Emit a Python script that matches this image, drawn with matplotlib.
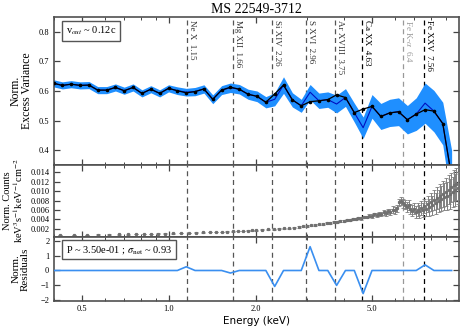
import matplotlib
matplotlib.use('Agg')
import matplotlib.pyplot as plt
import matplotlib.ticker as mticker
import numpy as np

plt.rcParams['font.family'] = ['Liberation Serif', 'DejaVu Serif']
plt.rcParams['mathtext.fontset'] = 'stix'

# excess variance spectrum (46 log bins, 0.4 - 10 keV)
energy = [0.400, 0.429, 0.460, 0.494, 0.530, 0.568, 0.610, 0.654, 0.701, 0.752,
          0.807, 0.866, 0.929, 0.997, 1.069, 1.147, 1.230, 1.320, 1.416, 1.519,
          1.629, 1.748, 1.875, 2.012, 2.158, 2.315, 2.483, 2.664, 2.858, 3.066,
          3.289, 3.528, 3.784, 4.060, 4.355, 4.672, 5.012, 5.377, 5.768, 6.187,
          6.637, 7.120, 7.638, 8.194, 8.790, 9.430]
fvar_obs = [0.626, 0.619, 0.623, 0.619, 0.620, 0.603, 0.603, 0.612, 0.601, 0.612,
            0.592, 0.606, 0.592, 0.609, 0.601, 0.596, 0.598, 0.607, 0.572, 0.603,
            0.611, 0.606, 0.589, 0.582, 0.562, 0.572, 0.620, 0.570, 0.550, 0.596,
            0.567, 0.571, 0.556, 0.578, 0.527, 0.476, 0.548, 0.514, 0.526, 0.530,
            0.503, 0.522, 0.559, 0.532, 0.490, 0.310]
fvar_model = [0.626, 0.619, 0.623, 0.619, 0.620, 0.603, 0.603, 0.612, 0.601, 0.612,
              0.592, 0.606, 0.592, 0.609, 0.601, 0.594, 0.598, 0.607, 0.572, 0.603,
              0.613, 0.606, 0.589, 0.582, 0.562, 0.590, 0.620, 0.570, 0.550, 0.564,
              0.567, 0.571, 0.587, 0.578, 0.527, 0.539, 0.548, 0.514, 0.526, 0.530,
              0.503, 0.522, 0.537, 0.532, 0.490, 0.310]
fvar_err = [0.012, 0.012, 0.012, 0.012, 0.012, 0.012, 0.012, 0.012, 0.012, 0.012,
            0.012, 0.012, 0.012, 0.012, 0.013, 0.013, 0.014, 0.014, 0.015, 0.015,
            0.016, 0.016, 0.017, 0.018, 0.019, 0.022, 0.028, 0.024, 0.022, 0.026,
            0.026, 0.026, 0.030, 0.030, 0.032, 0.036, 0.040, 0.044, 0.046, 0.047,
            0.048, 0.055, 0.068, 0.070, 0.072, 0.090]
residual = [0, 0, 0, 0, 0, 0, 0, 0, 0, 0,
            0, 0, 0, 0, 0, 0.25, 0, 0, 0, 0,
            -0.17, 0, 0, 0, 0, -1.07, 0, 0, 0, 1.6,
            0, 0, -1.0, 0, 0, -1.55, 0, 0, 0, 0,
            0, 0, 0.38, 0, 0, 0]

# time-averaged spectrum (units of 1e-3)
spec_energy = [0.42, 0.47, 0.52, 0.57, 0.62, 0.67, 0.72, 0.77, 0.82, 0.87, 0.92, 0.97,
               1.03, 1.10, 1.17, 1.24, 1.31, 1.38, 1.45, 1.52, 1.59, 1.66, 1.73, 1.80, 1.87, 1.94,
               2.0, 2.1, 2.2, 2.3, 2.4, 2.5, 2.6, 2.7, 2.8, 2.9,
               3.0, 3.1, 3.2, 3.3, 3.4, 3.5, 3.6, 3.7, 3.8, 3.9,
               4.0, 4.1, 4.2, 4.3, 4.4, 4.5, 4.6, 4.7, 4.8, 4.9,
               5.0, 5.1, 5.2, 5.3, 5.4, 5.5, 5.6, 5.7, 5.8, 5.9,
               6.0, 6.1, 6.2, 6.3, 6.4, 6.5, 6.6, 6.7, 6.8, 6.9,
               7.0, 7.1, 7.2, 7.3, 7.4, 7.5, 7.6, 7.7, 7.8, 7.9,
               8.0, 8.1, 8.2, 8.3, 8.4, 8.5, 8.6, 8.7, 8.8, 8.9,
               9.0, 9.1, 9.2, 9.3, 9.4, 9.5, 9.6, 9.7, 9.8, 9.9]
spec_counts = [0.70, 0.73, 0.76, 0.78, 0.80, 0.83, 0.86, 0.88, 0.92, 0.95, 0.99, 1.02,
               1.08, 1.12, 1.18, 1.22, 1.28, 1.31, 1.36, 1.40, 1.45, 1.52, 1.55, 1.60, 1.66, 1.70,
               1.75, 1.82, 1.90, 1.95, 2.02, 2.10, 2.18, 2.30, 2.40, 2.52,
               2.60, 2.75, 2.85, 3.00, 3.05, 3.25, 3.30, 3.45, 3.50, 3.70,
               3.75, 3.90, 3.85, 4.10, 4.15, 4.35, 4.25, 4.55, 4.50, 4.80,
               4.75, 5.05, 4.90, 5.25, 5.10, 5.50, 5.30, 5.75, 5.60, 6.10,
               5.90, 6.40, 7.60, 8.00, 7.40, 7.10, 6.60, 7.00, 6.20, 5.80,
               6.30, 5.50, 6.10, 5.70, 6.40, 6.00, 6.90, 6.30, 7.20, 6.60,
               7.60, 7.00, 8.10, 7.40, 8.60, 7.90, 9.00, 8.40, 9.40, 8.80,
               9.80, 9.00, 10.30, 9.40, 10.80, 9.80, 11.20, 10.20, 11.50, 10.60]
spec_err = [0.05] * 12 + [0.06] * 14 + \
           [0.08, 0.08, 0.09, 0.09, 0.10, 0.10, 0.11, 0.11, 0.12, 0.12,
            0.13, 0.13, 0.14, 0.14, 0.15, 0.16, 0.17, 0.18, 0.19, 0.20,
            0.21, 0.22, 0.23, 0.24, 0.25, 0.26, 0.27, 0.28, 0.29, 0.30,
            0.35, 0.38, 0.40, 0.42, 0.45, 0.48, 0.50, 0.55, 0.60, 0.65,
            0.70, 0.75, 0.80, 0.85, 0.90, 0.95, 1.00, 1.05, 1.10, 1.15,
            1.20, 1.25, 1.30, 1.35, 1.40, 1.45, 1.50, 1.60, 1.70, 1.80,
            1.90, 2.00, 2.10, 2.20, 2.30, 2.40, 2.50, 2.60, 2.70, 2.80,
            2.90, 3.00, 3.00, 3.10, 3.10, 3.20, 3.20, 3.30, 3.30, 3.40]

line_names = ['Ne X  1.15', 'Mg XII  1.66', 'Si XIV  2.26', 'S XVI  2.96',
              'Ar XVIII  3.75', 'Ca XX  4.63', r'Fe K-$\alpha$  6.4', 'Fe XXV  7.56']
line_energy = [1.15, 1.66, 2.26, 2.96, 3.75, 4.63, 6.4, 7.56]
line_color = ['#555555', '#555555', '#555555', '#555555', '#555555', 'black', '#999999', 'black']
text_color = ['#333333', '#333333', '#333333', '#333333', '#333333', 'black', '#999999', 'black']

E = np.array(energy)
obs = np.array(fvar_obs)
err = np.array(fvar_err)

fig = plt.figure(figsize=(4.63, 3.31), dpi=100)
l, w = 0.1156, 0.8758
ax1 = fig.add_axes([l, 0.5015, w, 0.4471])
ax2 = fig.add_axes([l, 0.2840, w, 0.2175])
ax3 = fig.add_axes([l, 0.0906, w, 0.1934])

# top: excess variance
ax1.fill_between(E, obs - err, obs + err, color='#1f8fff', lw=0, zorder=2)
ax1.plot(E, obs, color='#0010c0', lw=0.8, zorder=3)
ax1.plot(E, fvar_model, color='black', lw=0.9, marker='o', ms=1.6, zorder=4)
ax1.set_ylim(0.35, 0.85)
ax1.set_yticks([0.4, 0.5, 0.6, 0.7, 0.8])
ax1.set_ylabel('Norm.\nExcess Variance', fontsize=8.5, linespacing=1.0)
ax1.set_title('MS 22549-3712', fontsize=10, pad=3)
ax1.text(0.03, 0.905, r'v$_{out}$ ~ 0.12c', transform=ax1.transAxes, fontsize=7.5,
         ha='left', va='center',
         bbox=dict(boxstyle='square,pad=0.35', fc='white', ec='#555555', lw=1))

# middle: spectrum
ax2.errorbar(spec_energy, np.array(spec_counts) * 1e-3, yerr=np.array(spec_err) * 1e-3,
             fmt='s', ms=1.3, color='#707070', ecolor='#808080', elinewidth=0.7,
             capsize=1.5, capthick=0.6, zorder=3)
ax2.set_ylim(0.0003, 0.0155)
ax2.yaxis.set_major_locator(mticker.FixedLocator([0.002, 0.004, 0.006, 0.008, 0.010, 0.012, 0.014]))
ax2.yaxis.set_major_formatter(mticker.FormatStrFormatter('%.3f'))
ax2.set_ylabel('Norm. Counts\nkeV$^3$s$^{-1}$keV$^{-1}$cm$^{-2}$', fontsize=7.5, linespacing=1.0)

# bottom: residuals
ax3.plot(E, residual, color='#3a8ff0', lw=1.2, zorder=3)
ax3.set_ylim(-2.05, 2.25)
ax3.set_yticks([-2, -1, 0, 1, 2])
ax3.set_ylabel('Norm.\nResiduals', fontsize=8, linespacing=1.0)
ax3.set_xlabel('Energy (keV)', fontsize=7.5, family='DejaVu Sans', labelpad=2)
ax3.text(0.03, 0.8, r'P ~ 3.50e-01 ; $\sigma_{\rm net}$ ~ 0.93', transform=ax3.transAxes,
         fontsize=7.5, ha='left', va='center',
         bbox=dict(boxstyle='square,pad=0.35', fc='white', ec='#555555', lw=1))

for ax in (ax1, ax2, ax3):
    ax.set_xscale('log')
    ax.set_xlim(0.4, 10)
    ax.xaxis.set_major_locator(mticker.FixedLocator([0.5, 1.0, 2.0, 5.0]))
    ax.xaxis.set_major_formatter(mticker.FormatStrFormatter('%.1f'))
    ax.xaxis.set_minor_locator(mticker.FixedLocator([0.4, 0.6, 0.7, 0.8, 0.9, 3, 4, 6, 7, 8, 9]))
    ax.xaxis.set_minor_formatter(mticker.NullFormatter())
    ax.tick_params(which='both', direction='in', top=True, right=True, labelsize=6,
                   color='#444444', pad=3)
    ax.tick_params(which='major', length=4, width=0.9)
    ax.tick_params(which='minor', length=2, width=0.7)
    for s in ax.spines.values():
        s.set_color('#505050')
        s.set_linewidth(1.2)
    for en, c in zip(line_energy, line_color):
        ax.axvline(en, color=c, ls=(0, (4, 3)), lw=0.9, zorder=1)

ax1.yaxis.set_label_coords(-0.05, 0.5)
ax2.yaxis.set_label_coords(-0.07, 0.5)
ax3.yaxis.set_label_coords(-0.058, 0.5)
ax1.tick_params(labelbottom=False)
ax2.tick_params(labelbottom=False)

for en, name, c in zip(line_energy, line_names, text_color):
    ax1.text(en * 1.008, 0.978, name, transform=ax1.get_xaxis_transform(), rotation=270,
             ha='left', va='top', fontsize=6.5, color=c)

fig.savefig('out.png', dpi=100)
